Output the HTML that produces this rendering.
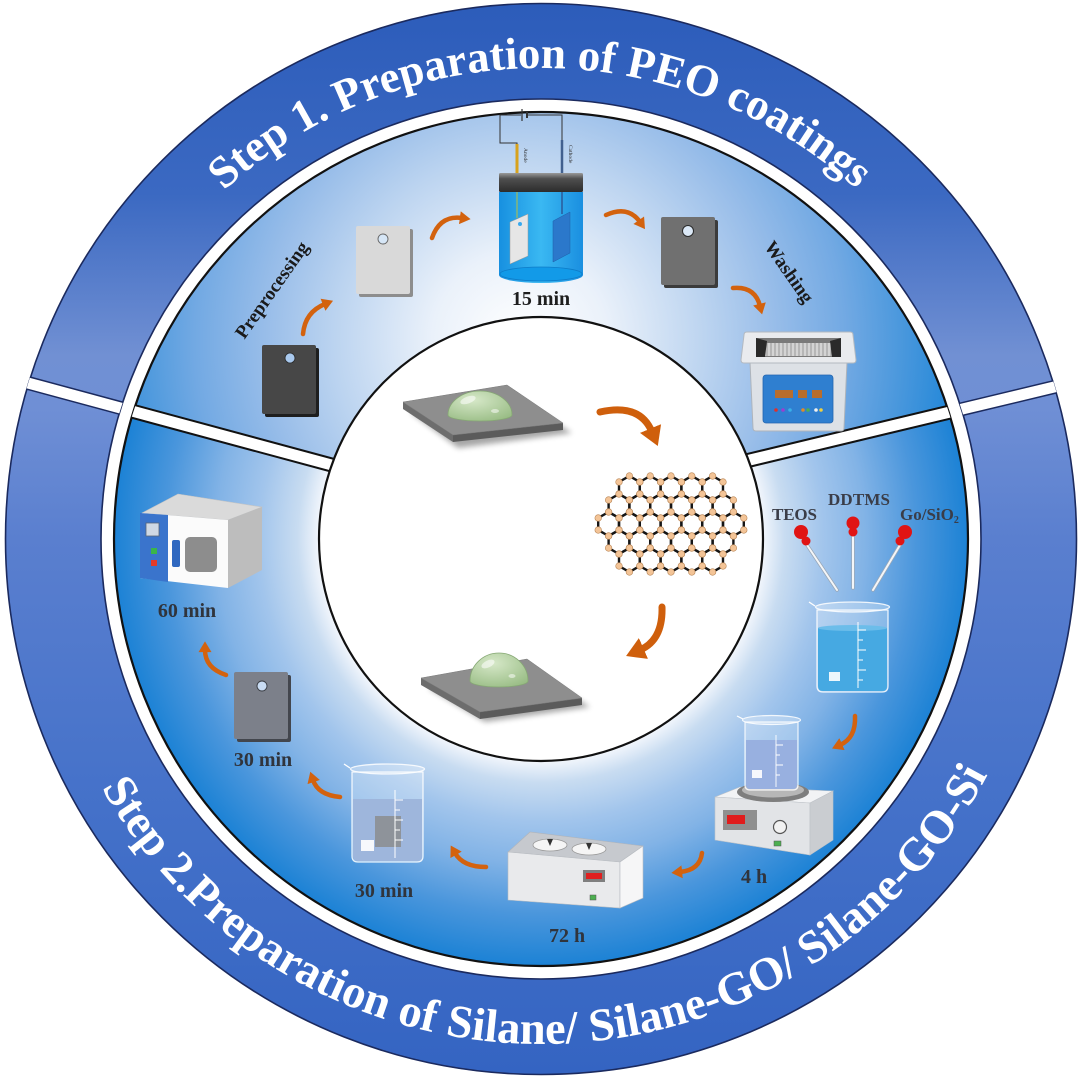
<!DOCTYPE html>
<html><head><meta charset="utf-8">
<style>html,body{margin:0;padding:0;background:#fff;}svg{display:block;}</style>
</head><body>
<svg width="1080" height="1077" viewBox="0 0 1080 1077" xmlns="http://www.w3.org/2000/svg" font-family="'Liberation Serif', serif">
<defs>
 <linearGradient id="og" x1="0" y1="0" x2="0" y2="1077" gradientUnits="userSpaceOnUse">
  <stop offset="0" stop-color="#2c5cba"/>
  <stop offset="0.18" stop-color="#3b69c2"/>
  <stop offset="0.33" stop-color="#7190d3"/>
  <stop offset="0.38" stop-color="#6f8fd5"/>
  <stop offset="0.5" stop-color="#5a7fcf"/>
  <stop offset="0.75" stop-color="#4471c9"/>
  <stop offset="1" stop-color="#3464c2"/>
 </linearGradient>
 <radialGradient id="g1" cx="520" cy="340" r="440" gradientUnits="userSpaceOnUse">
  <stop offset="0" stop-color="#ffffff"/>
  <stop offset="0.2" stop-color="#eaf1fa"/>
  <stop offset="0.42" stop-color="#bcd4f0"/>
  <stop offset="0.58" stop-color="#98bde9"/>
  <stop offset="0.74" stop-color="#72a9e3"/>
  <stop offset="0.88" stop-color="#4696dc"/>
  <stop offset="1" stop-color="#1f86d8"/>
 </radialGradient>
 <radialGradient id="g2" cx="541" cy="539" r="427" gradientUnits="userSpaceOnUse">
  <stop offset="0" stop-color="#ffffff"/>
  <stop offset="0.52" stop-color="#f2f6fc"/>
  <stop offset="0.57" stop-color="#c8dcf1"/>
  <stop offset="0.66" stop-color="#a2c5ec"/>
  <stop offset="0.76" stop-color="#82b3e6"/>
  <stop offset="0.88" stop-color="#4a96dc"/>
  <stop offset="1" stop-color="#1c82d5"/>
 </radialGradient>
 <linearGradient id="capg" x1="0" y1="0" x2="0" y2="1">
  <stop offset="0" stop-color="#9a9a9a"/><stop offset="0.3" stop-color="#4f4f4f"/><stop offset="1" stop-color="#2c2c2c"/>
 </linearGradient>
 <linearGradient id="cellg" x1="0" y1="0" x2="1" y2="0">
  <stop offset="0" stop-color="#1790e0"/><stop offset="0.5" stop-color="#3ab8f2"/><stop offset="1" stop-color="#1a8fe0"/>
 </linearGradient>
 <radialGradient id="drop" cx="0.4" cy="0.3" r="0.8">
  <stop offset="0" stop-color="#d6e8c8"/><stop offset="1" stop-color="#98bc84"/>
 </radialGradient>
 <filter id="bl" x="-20%" y="-50%" width="140%" height="200%"><feGaussianBlur stdDeviation="3"/></filter>
 <clipPath id="c1"><polygon points="-10,372.75 400,483.4 700,472 1090,378.4 1090,-10 -10,-10"/></clipPath>
 <clipPath id="cOut"><path clip-rule="evenodd" d="M5,539 A536,536 0 1,0 1077,539 A536,536 0 1,0 5,539 Z M101,539 A440,440 0 1,0 981,539 A440,440 0 1,0 101,539 Z"/></clipPath>
 <clipPath id="cIn"><path clip-rule="evenodd" d="M114,539 A427,427 0 1,0 968,539 A427,427 0 1,0 114,539 Z M319,539 A222,222 0 1,0 763,539 A222,222 0 1,0 319,539 Z"/></clipPath>
 <marker id="ah" viewBox="0 0 10 12" refX="2" refY="6" markerWidth="11" markerHeight="13" markerUnits="userSpaceOnUse" orient="auto"><path d="M0,0 L10,6 L0,12 z" fill="#d3620e"/></marker>
 <marker id="ahb" viewBox="0 0 10 12" refX="2" refY="6" markerWidth="19" markerHeight="24" markerUnits="userSpaceOnUse" orient="auto"><path d="M0,0 L10,6 L0,12 z" fill="#cf5f0c"/></marker>
 <path id="tp1" d="M224.0,190.7 A471,471 0 0,1 856.2,189.0"/>
 <path id="tp2" d="M101.5,787.7 A505,505 0 0,0 987.7,774.5"/>
 <g id="hb"><path d="M0,-12 L10.392,-6 L10.392,6 L0,12 L-10.392,6 L-10.392,-6 Z" fill="none" stroke="#151515" stroke-width="2.4"/></g>
 <g id="hn" fill="#f3c497" stroke="#b98656" stroke-width="0.6">
  <circle cx="0" cy="-12" r="3.3"/><circle cx="10.392" cy="-6" r="3.3"/><circle cx="10.392" cy="6" r="3.3"/>
  <circle cx="0" cy="12" r="3.3"/><circle cx="-10.392" cy="6" r="3.3"/><circle cx="-10.392" cy="-6" r="3.3"/>
 </g>
</defs>

<rect width="1080" height="1077" fill="#fff"/>

<!-- outer ring -->
<path fill-rule="evenodd" fill="url(#og)" d="M5,539 A536,536 0 1,0 1077,539 A536,536 0 1,0 5,539 Z M101,539 A440,440 0 1,0 981,539 A440,440 0 1,0 101,539 Z"/>
<circle cx="541" cy="539" r="535.5" fill="none" stroke="#1b2a5e" stroke-width="1.6"/>
<circle cx="541" cy="539" r="440" fill="none" stroke="#1b2a5e" stroke-width="1.6"/>

<!-- inner ring -->
<path fill-rule="evenodd" fill="url(#g2)" d="M114,539 A427,427 0 1,0 968,539 A427,427 0 1,0 114,539 Z M319,539 A222,222 0 1,0 763,539 A222,222 0 1,0 319,539 Z"/>
<path fill-rule="evenodd" fill="url(#g1)" clip-path="url(#c1)" d="M114,539 A427,427 0 1,0 968,539 A427,427 0 1,0 114,539 Z M319,539 A222,222 0 1,0 763,539 A222,222 0 1,0 319,539 Z"/>
<circle cx="541" cy="539" r="427" fill="none" stroke="#111" stroke-width="2.2"/>

<!-- dividers -->
<g clip-path="url(#cOut)">
 <line x1="-10" y1="372.75" x2="340" y2="467.25" stroke="#1b2a5e" stroke-width="14"/>
 <line x1="-10" y1="372.75" x2="340" y2="467.25" stroke="#fff" stroke-width="11"/>
 <line x1="740" y1="462.4" x2="1090" y2="378.4" stroke="#1b2a5e" stroke-width="14"/>
 <line x1="740" y1="462.4" x2="1090" y2="378.4" stroke="#fff" stroke-width="11"/>
</g>
<g clip-path="url(#cIn)">
 <line x1="-10" y1="372.75" x2="340" y2="467.25" stroke="#111" stroke-width="15"/>
 <line x1="-10" y1="372.75" x2="340" y2="467.25" stroke="#fff" stroke-width="11"/>
 <line x1="740" y1="462.4" x2="1090" y2="378.4" stroke="#111" stroke-width="15"/>
 <line x1="740" y1="462.4" x2="1090" y2="378.4" stroke="#fff" stroke-width="11"/>
</g>

<!-- center white circle -->
<circle cx="541" cy="539" r="222" fill="#fff" stroke="#111" stroke-width="2.2"/>

<!-- ring titles -->
<text font-size="45" font-weight="bold" fill="#fff"><textPath href="#tp1" textLength="693" lengthAdjust="spacing">Step 1. Preparation of PEO coatings</textPath></text>
<text font-size="46.5" font-weight="bold" fill="#fff"><textPath href="#tp2" textLength="1081" lengthAdjust="spacing">Step 2.Preparation of Silane/ Silane-GO/ Silane-GO-Si</textPath></text>

<!-- ===== STEP 1 objects ===== -->
<rect x="265" y="348" width="54" height="69" rx="2" fill="#1e1e1e"/>
<rect x="262" y="345" width="54" height="69" rx="2" fill="#474747"/>
<circle cx="290" cy="358" r="5" fill="#a9c9ee" stroke="#2a2a2a" stroke-width="0.8"/>
<text transform="translate(272,290) rotate(-55)" text-anchor="middle" y="6" font-size="19" font-weight="bold" fill="#1a1a1a">Preprocessing</text>
<path d="M303,334 Q305,312 325,304" fill="none" stroke="#d3620e" stroke-width="4.5" stroke-linecap="round" marker-end="url(#ah)"/>
<rect x="359" y="229" width="54" height="68" rx="2" fill="#8d8d8d"/>
<rect x="356" y="226" width="54" height="68" rx="2" fill="#d9d9d9"/>
<circle cx="383" cy="239" r="5" fill="#d6e6f6" stroke="#666" stroke-width="0.9"/>
<path d="M432,238 Q440,215 462,218" fill="none" stroke="#d3620e" stroke-width="4.5" stroke-linecap="round" marker-end="url(#ah)"/>

<!-- electrolysis cell -->
<path d="M517,173 V143 H500 V115 H521 M528,115 H562 V173" stroke="#333" fill="none" stroke-width="1"/>
<line x1="522" y1="109" x2="522" y2="121" stroke="#333" stroke-width="1.2"/>
<line x1="527" y1="112" x2="527" y2="118" stroke="#333" stroke-width="2"/>
<line x1="517" y1="144" x2="517" y2="174" stroke="#d8a21c" stroke-width="3"/>
<line x1="562" y1="140" x2="562" y2="174" stroke="#41608f" stroke-width="2.5"/>
<text transform="translate(524,148) rotate(90)" font-size="5.5" fill="#333">Anode</text>
<text transform="translate(569,145) rotate(90)" font-size="5.5" fill="#333">Cathode</text>
<path d="M499,192 H583 V275 A42,8 0 0,1 499,275 Z" fill="url(#cellg)"/>
<ellipse cx="541" cy="274" rx="41" ry="7" fill="#129ae8" stroke="#0e7cc8" stroke-width="0.8"/>
<line x1="517" y1="192" x2="517" y2="218" stroke="#b8c040" stroke-width="1"/>
<line x1="562" y1="192" x2="562" y2="214" stroke="#2a5a9a" stroke-width="1.5"/>
<polygon points="510,222 528,214 528,256 510,264" fill="#e6e6e6" stroke="#999" stroke-width="0.5"/>
<circle cx="520" cy="224" r="2" fill="#39a9ee"/>
<polygon points="553,221 570,212 570,253 553,262" fill="#2b78cb" stroke="#1d5fa8" stroke-width="0.5"/>
<rect x="499" y="173" width="84" height="19" rx="1.5" fill="url(#capg)"/>
<text x="541" y="305" text-anchor="middle" font-size="20" font-weight="bold" fill="#1e1e1e">15 min</text>

<path d="M606,215 Q628,205 640,222" fill="none" stroke="#d3620e" stroke-width="4.5" stroke-linecap="round" marker-end="url(#ah)"/>
<rect x="664" y="220" width="54" height="68" rx="2" fill="#3b3b3b"/>
<rect x="661" y="217" width="54" height="68" rx="2" fill="#707070"/>
<circle cx="688" cy="231" r="5.5" fill="#dbe8f6" stroke="#2a2a2a" stroke-width="1"/>
<text transform="translate(789,272) rotate(55)" text-anchor="middle" y="6" font-size="19" font-weight="bold" fill="#1a1a1a">Washing</text>
<path d="M733,288 Q755,286 760,306" fill="none" stroke="#d3620e" stroke-width="4.5" stroke-linecap="round" marker-end="url(#ah)"/>

<!-- ultrasonic cleaner -->
<path d="M750,362 H847 L844,428 Q844,431 841,431 H756 Q753,431 753,428 Z" fill="#dde1e6" stroke="#aeb4bb" stroke-width="1"/>
<rect x="763" y="375" width="70" height="48" rx="3" fill="#2f7fd0" stroke="#2566b0" stroke-width="0.8"/>
<rect x="775" y="390" width="18" height="8" fill="#b86d2c"/>
<rect x="798" y="390" width="9" height="8" fill="#b86d2c"/>
<rect x="812" y="390" width="10" height="8" fill="#b86d2c"/>
<circle cx="776" cy="410" r="1.8" fill="#e0302a"/><circle cx="783" cy="410" r="1.8" fill="#9a3ed0"/>
<circle cx="790" cy="410" r="1.8" fill="#39b0e8"/><circle cx="803" cy="410" r="1.8" fill="#e08a2a"/>
<circle cx="808" cy="410" r="1.8" fill="#4caf50"/><circle cx="816" cy="410" r="1.8" fill="#f0f0f0"/>
<circle cx="821" cy="410" r="1.8" fill="#f0d040"/>
<path d="M744,335 Q744,332 747,332 H850 Q853,332 853,335 L856,360 Q856,363 853,363 H744 Q741,363 741,360 Z" fill="#e9ebee" stroke="#b3b9c0" stroke-width="1"/>
<rect x="756" y="338" width="85" height="19" fill="#7a7a7a"/>
<rect x="764" y="343" width="69" height="13" fill="#d4d4d4"/>
<path d="M767,343 v13 M771,343 v13 M775,343 v13 M779,343 v13 M783,343 v13 M787,343 v13 M791,343 v13 M795,343 v13 M799,343 v13 M803,343 v13 M807,343 v13 M811,343 v13 M815,343 v13 M819,343 v13 M823,343 v13 M827,343 v13 M831,343 v13" stroke="#8a8a8a" stroke-width="0.8"/>
<polygon points="756,338 767,341 765,357 756,357" fill="#2a2a2a"/>
<polygon points="841,338 830,341 832,357 841,357" fill="#2a2a2a"/>

<!-- ===== CENTER ===== -->
<polygon points="410,412 510,394 572,433 458,448" fill="#000" opacity="0.35" filter="url(#bl)"/>
<polygon points="403,402 453,435 453,442 403,409" fill="#6d6d6d"/>
<polygon points="453,435 563,423 563,430 453,442" fill="#5b5b5b"/>
<polygon points="403,402 507,385 563,423 453,435" fill="#8e8e8e" stroke="#7a7a7a" stroke-width="0.5"/>
<path d="M448,415 A32,24 0 0,1 512,415 A32,6 0 0,1 448,415 Z" fill="url(#drop)" stroke="#86a874" stroke-width="0.8"/>
<ellipse cx="468" cy="400" rx="8" ry="3.5" transform="rotate(-20 468 400)" fill="#fff" opacity="0.55"/>
<ellipse cx="495" cy="411" rx="4" ry="2" fill="#fff" opacity="0.5"/>

<path d="M600,412 Q640,403 652,432" fill="none" stroke="#cf5f0c" stroke-width="7" stroke-linecap="round" marker-end="url(#ahb)"/>

<!-- graphene -->
<g>
 <use href="#hb" x="629.4" y="488"/><use href="#hb" x="650.2" y="488"/><use href="#hb" x="671" y="488"/><use href="#hb" x="691.8" y="488"/><use href="#hb" x="712.6" y="488"/>
 <use href="#hb" x="619.0" y="506"/><use href="#hb" x="639.8" y="506"/><use href="#hb" x="660.6" y="506"/><use href="#hb" x="681.4" y="506"/><use href="#hb" x="702.2" y="506"/><use href="#hb" x="723.0" y="506"/>
 <use href="#hb" x="608.6" y="524"/><use href="#hb" x="629.4" y="524"/><use href="#hb" x="650.2" y="524"/><use href="#hb" x="671" y="524"/><use href="#hb" x="691.8" y="524"/><use href="#hb" x="712.6" y="524"/><use href="#hb" x="733.4" y="524"/>
 <use href="#hb" x="619.0" y="542"/><use href="#hb" x="639.8" y="542"/><use href="#hb" x="660.6" y="542"/><use href="#hb" x="681.4" y="542"/><use href="#hb" x="702.2" y="542"/><use href="#hb" x="723.0" y="542"/>
 <use href="#hb" x="629.4" y="560"/><use href="#hb" x="650.2" y="560"/><use href="#hb" x="671" y="560"/><use href="#hb" x="691.8" y="560"/><use href="#hb" x="712.6" y="560"/>
 <use href="#hn" x="629.4" y="488"/><use href="#hn" x="650.2" y="488"/><use href="#hn" x="671" y="488"/><use href="#hn" x="691.8" y="488"/><use href="#hn" x="712.6" y="488"/>
 <use href="#hn" x="619.0" y="506"/><use href="#hn" x="639.8" y="506"/><use href="#hn" x="660.6" y="506"/><use href="#hn" x="681.4" y="506"/><use href="#hn" x="702.2" y="506"/><use href="#hn" x="723.0" y="506"/>
 <use href="#hn" x="608.6" y="524"/><use href="#hn" x="629.4" y="524"/><use href="#hn" x="650.2" y="524"/><use href="#hn" x="671" y="524"/><use href="#hn" x="691.8" y="524"/><use href="#hn" x="712.6" y="524"/><use href="#hn" x="733.4" y="524"/>
 <use href="#hn" x="619.0" y="542"/><use href="#hn" x="639.8" y="542"/><use href="#hn" x="660.6" y="542"/><use href="#hn" x="681.4" y="542"/><use href="#hn" x="702.2" y="542"/><use href="#hn" x="723.0" y="542"/>
 <use href="#hn" x="629.4" y="560"/><use href="#hn" x="650.2" y="560"/><use href="#hn" x="671" y="560"/><use href="#hn" x="691.8" y="560"/><use href="#hn" x="712.6" y="560"/>
</g>

<path d="M662,607 Q663,640 640,650" fill="none" stroke="#cf5f0c" stroke-width="7" stroke-linecap="round" marker-end="url(#ahb)"/>

<polygon points="428,688 530,668 590,707 485,722" fill="#000" opacity="0.35" filter="url(#bl)"/>
<polygon points="421,678 480,712 480,719 421,685" fill="#6d6d6d"/>
<polygon points="480,712 582,698 582,705 480,719" fill="#5b5b5b"/>
<polygon points="421,678 527,659 582,698 480,712" fill="#8e8e8e" stroke="#7a7a7a" stroke-width="0.5"/>
<path d="M470,681 A29,28 0 0,1 528,681 A29,6 0 0,1 470,681 Z" fill="url(#drop)" stroke="#86a874" stroke-width="0.8"/>
<ellipse cx="488" cy="664" rx="7" ry="3.5" transform="rotate(-25 488 664)" fill="#fff" opacity="0.55"/>
<ellipse cx="512" cy="676" rx="3.5" ry="2" fill="#fff" opacity="0.5"/>

<!-- ===== STEP 2 objects ===== -->
<text x="772" y="520" font-size="17" font-weight="bold" fill="#3a3d48" textLength="45" lengthAdjust="spacing">TEOS</text>
<text x="828" y="505" font-size="17" font-weight="bold" fill="#3a3d48" textLength="62" lengthAdjust="spacing">DDTMS</text>
<text x="900" y="520" font-size="17" font-weight="bold" fill="#3a3d48">Go/SiO<tspan font-size="10" dy="3">2</tspan></text>
<g stroke-linecap="round">
 <line x1="807" y1="545" x2="837" y2="590" stroke="#9aa8b8" stroke-width="3.5"/>
 <line x1="807" y1="545" x2="837" y2="590" stroke="#f4f6f8" stroke-width="2"/>
 <line x1="853" y1="537" x2="853" y2="588" stroke="#9aa8b8" stroke-width="3.5"/>
 <line x1="853" y1="537" x2="853" y2="588" stroke="#f4f6f8" stroke-width="2"/>
 <line x1="900" y1="545" x2="873" y2="590" stroke="#9aa8b8" stroke-width="3.5"/>
 <line x1="900" y1="545" x2="873" y2="590" stroke="#f4f6f8" stroke-width="2"/>
</g>
<g fill="#e01414">
 <circle cx="801" cy="532" r="7"/><circle cx="806" cy="541" r="4.5"/>
 <circle cx="853" cy="523" r="6.5"/><circle cx="853" cy="532" r="4.5"/>
 <circle cx="905" cy="532" r="7"/><circle cx="900" cy="541" r="4.5"/>
</g>
<path d="M817,610 V686 Q817,692 823,692 H882 Q888,692 888,686 V610 Z" fill="#fff" fill-opacity="0.25" stroke="#fff" stroke-opacity="0.85" stroke-width="1.3"/>
<path d="M818,628 V686 Q818,691 823,691 H882 Q887,691 887,686 V628 Z" fill="#46a9e2"/>
<ellipse cx="852.5" cy="628" rx="34.5" ry="3" fill="#6cbdea"/>
<ellipse cx="852.5" cy="607" rx="37" ry="5" fill="#fff" fill-opacity="0.3" stroke="#fff" stroke-opacity="0.85" stroke-width="1.3"/>
<path d="M815,606 L809,602" stroke="#fff" stroke-width="1.3"/>
<path d="M858,622 V688 M858,630 h8 M858,640 h5 M858,650 h8 M858,660 h5 M858,670 h8 M858,680 h5" stroke="#fff" stroke-width="1" fill="none"/>
<rect x="829" y="672" width="11" height="9" fill="#fff" opacity="0.9"/>

<path d="M855,716 Q856,738 840,745" fill="none" stroke="#d3620e" stroke-width="4.5" stroke-linecap="round" marker-end="url(#ah)"/>

<!-- stirrer -->
<polygon points="715,797 740,787 833,791 810,803" fill="#f2f3f5" stroke="#bfc3c8" stroke-width="0.6"/>
<polygon points="715,797 810,803 810,855 715,840" fill="#e2e4e7" stroke="#bfc3c8" stroke-width="0.6"/>
<polygon points="810,803 833,791 833,840 810,855" fill="#cacdd1" stroke="#bfc3c8" stroke-width="0.6"/>
<rect x="723" y="810" width="34" height="20" fill="#8f8f8f"/>
<rect x="727" y="815" width="18" height="9" fill="#e01c1c"/>
<circle cx="780" cy="827" r="6.5" fill="#f2f2f2" stroke="#555" stroke-width="1.2"/>
<rect x="774" y="841" width="7" height="5" fill="#4caf50" stroke="#555" stroke-width="0.5"/>
<ellipse cx="773" cy="792" rx="36" ry="10" fill="#7e7e7e"/>
<ellipse cx="773" cy="790" rx="31" ry="7.5" fill="#b7b7b7"/>
<path d="M745,722 V785 Q745,790 750,790 H793 Q798,790 798,785 V722 Z" fill="#fff" fill-opacity="0.25" stroke="#fff" stroke-opacity="0.85" stroke-width="1.2"/>
<path d="M746,740 V785 Q746,789 750,789 H793 Q797,789 797,785 V740 Z" fill="#98b0e0"/>
<ellipse cx="771.5" cy="720" rx="29" ry="4.5" fill="#fff" fill-opacity="0.3" stroke="#fff" stroke-opacity="0.85" stroke-width="1.2"/>
<path d="M743,719 L737,716" stroke="#fff" stroke-width="1.2"/>
<path d="M776,735 V787 M776,745 h7 M776,755 h4 M776,765 h7 M776,775 h4" stroke="#fff" stroke-width="0.9" fill="none"/>
<rect x="752" y="770" width="10" height="8" fill="#fff" opacity="0.9"/>
<text x="754" y="883" text-anchor="middle" font-size="20" font-weight="bold" fill="#30343c">4 h</text>

<path d="M702,853 Q700,870 680,872" fill="none" stroke="#d3620e" stroke-width="4.5" stroke-linecap="round" marker-end="url(#ah)"/>

<!-- water bath -->
<polygon points="508,852 530,832 643,846 620,862" fill="#c6c9ce" stroke="#b0b4ba" stroke-width="0.6"/>
<polygon points="508,852 620,862 620,908 508,900" fill="#e9eaec" stroke="#b8bcc1" stroke-width="0.6"/>
<polygon points="620,862 643,846 643,898 620,908" fill="#f6f6f7" stroke="#b8bcc1" stroke-width="0.6"/>
<ellipse cx="550" cy="845" rx="17" ry="6" fill="#f5f5f5" stroke="#999" stroke-width="0.8"/>
<ellipse cx="589" cy="849" rx="17" ry="6" fill="#f5f5f5" stroke="#999" stroke-width="0.8"/>
<polygon points="547,839 553,839 550,846" fill="#333"/>
<polygon points="586,843 592,843 589,850" fill="#333"/>
<rect x="583" y="870" width="22" height="12" fill="#7f7f7f"/>
<rect x="586" y="873" width="16" height="6" fill="#e02020"/>
<rect x="590" y="895" width="6" height="5" fill="#4caf50" stroke="#555" stroke-width="0.5"/>
<text x="567" y="942" text-anchor="middle" font-size="20" font-weight="bold" fill="#30343c">72 h</text>

<path d="M486,867 Q463,867 455,853" fill="none" stroke="#d3620e" stroke-width="4.5" stroke-linecap="round" marker-end="url(#ah)"/>

<!-- beaker with plate -->
<path d="M352,772 V856 Q352,862 358,862 H417 Q423,862 423,856 V772 Z" fill="#fff" fill-opacity="0.25" stroke="#fff" stroke-opacity="0.85" stroke-width="1.3"/>
<path d="M353,799 V856 Q353,861 358,861 H417 Q422,861 422,856 V799 Z" fill="#9eb6dc"/>
<rect x="375" y="816" width="26" height="31" fill="#8e939a"/>
<ellipse cx="387.5" cy="769" rx="37" ry="5" fill="#fff" fill-opacity="0.3" stroke="#fff" stroke-opacity="0.85" stroke-width="1.3"/>
<path d="M350,768 L344,764" stroke="#fff" stroke-width="1.3"/>
<path d="M395,790 V858 M395,800 h8 M395,810 h5 M395,820 h8 M395,830 h5 M395,840 h8" stroke="#fff" stroke-width="1" fill="none"/>
<rect x="361" y="840" width="13" height="11" fill="#fff" opacity="0.9"/>
<text x="384" y="897" text-anchor="middle" font-size="20" font-weight="bold" fill="#30343c">30 min</text>

<path d="M340,797 Q318,795 313,780" fill="none" stroke="#d3620e" stroke-width="4.5" stroke-linecap="round" marker-end="url(#ah)"/>

<rect x="237" y="675" width="54" height="67" rx="2" fill="#43464d"/>
<rect x="234" y="672" width="54" height="67" rx="2" fill="#7c808a"/>
<circle cx="262" cy="686" r="5" fill="#c9dcf3" stroke="#3a3d44" stroke-width="0.9"/>
<text x="263" y="766" text-anchor="middle" font-size="20" font-weight="bold" fill="#30343c">30 min</text>

<path d="M226,675 Q205,668 205,650" fill="none" stroke="#d3620e" stroke-width="4.5" stroke-linecap="round" marker-end="url(#ah)"/>

<!-- oven -->
<polygon points="142,513 178,494 262,507 228,520" fill="#dadada" stroke="#c4c4c4" stroke-width="0.6"/>
<polygon points="228,520 262,507 262,570 228,588" fill="#bdbdbd"/>
<polygon points="142,513 228,520 228,588 140,578" fill="#fbfbfb"/>
<polygon points="140,513 168,515 168,582 140,578" fill="#3a74cc"/>
<rect x="146" y="523" width="13" height="13" fill="#cfd8e4" stroke="#5a6478" stroke-width="0.8"/>
<rect x="151" y="548" width="6" height="6" fill="#3bb54a"/>
<rect x="151" y="560" width="6" height="6" fill="#e23a2a"/>
<rect x="172" y="540" width="8" height="27" rx="2" fill="#2f68c0"/>
<rect x="185" y="537" width="32" height="35" rx="5" fill="#8d8d8d"/>
<text x="187" y="617" text-anchor="middle" font-size="20" font-weight="bold" fill="#30343c">60 min</text>
</svg>
</body></html>
